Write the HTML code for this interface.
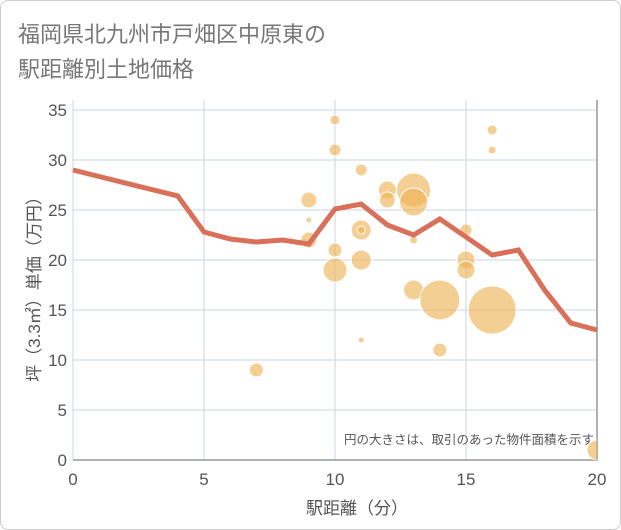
<!DOCTYPE html>
<html><head><meta charset="utf-8"><style>
body{margin:0;background:#fff;font-family:"Liberation Sans","Noto Sans CJK JP",sans-serif}
#wrap{position:relative;width:619px;height:528px;border:1px solid #ccc;border-radius:8px;background:#fff}
</style></head><body>
<div id="wrap">
<svg id="c" width="621" height="530" style="position:absolute;left:-1px;top:-1px">
<defs><clipPath id="pc"><rect x="73" y="90" width="524" height="370"/></clipPath></defs>
<text x="18" y="42" font-size="22" fill="#777">福岡県北九州市戸畑区中原東の</text>
<text x="18" y="77" font-size="22" fill="#777">駅距離別土地価格</text>
<text x="357" y="514" font-size="17" fill="#555" text-anchor="middle">駅距離（分）</text>
<text transform="translate(40,285) rotate(-90)" font-size="17" fill="#555" text-anchor="middle">坪（3.3㎡）単価（万円）</text>
<g id="grid"></g><g id="bub" clip-path="url(#pc)"></g><g id="ln"></g>
<text x="594" y="444" font-size="12.5" fill="#555" text-anchor="end">円の大きさは、取引のあった物件面積を示す</text>
</svg>
</div>
<script>
const xTicks=[0,5,10,15,20];
const yTicks=[0,5,10,15,20,25,30,35];
const lineX=[0,4,5,6,7,8,9,10,11,12,13,14,15,16,17,18,19,20];
const lineY=[29,26.4,22.8,22.1,21.8,22,21.6,25.1,25.6,23.5,22.5,24.1,22.3,20.5,21,17,13.7,13];
const bubX=[7,9,9,9,10,10,10,10,11,11,11,11,11,12,12,13,13,13,13,14,14,15,15,15,16,16,16,20];
const bubY=[9,26,24,22,34,31,21,19,29,23,23,20,12,27,26,27,25.8,22,17,16,11,23,20,19,33,31,15,1];
const bubR=[7,8,3,8,5,6,7,12,6,10,4,10,3,9,8,17,14,4,10,20,7,6,9,9,5,4,24,10];
const X0=73,X1=597,Y0=460,Y1=110;
const sx=v=>X0+(v-0)/20*(X1-X0);
const sy=v=>Y0-(v-0)/35*(Y0-Y1);
const NS="http://www.w3.org/2000/svg";
function mk(t,a,p){const e=document.createElementNS(NS,t);for(const k in a)e.setAttribute(k,a[k]);p.appendChild(e);return e;}
const g=document.getElementById('grid');
yTicks.forEach(v=>{
 const l=mk('line',{x1:X0,x2:X1,y1:sy(v),y2:sy(v),stroke:'#c8d4e4','stroke-width':1},g);
 
 
 const t=mk('text',{x:X0-6,y:sy(v)+6,'font-size':17,fill:'#555','text-anchor':'end'},g);t.textContent=v;
 
 
});
xTicks.forEach(v=>{
 const l=mk('line',{x1:sx(v),x2:sx(v),y1:Y1-10,y2:Y0,stroke:'#c8d4e4','stroke-width':1},g);
 
 
 const t=mk('text',{x:sx(v),y:Y0+25,'font-size':17,fill:'#555','text-anchor':'middle'},g);t.textContent=v;
 
 
});
const fr=mk('path',{d:`M${X0} ${Y0}H${X1}V${Y1-10}`,fill:'none',stroke:'#999','stroke-width':1.5},g);


const b=document.getElementById('bub');
bubX.forEach((x,i)=>{
 const c=mk('circle',{cx:sx(x),cy:sy(bubY[i]),r:bubR[i],fill:'rgba(238,178,80,0.62)',stroke:'#fff','stroke-width':1},b);
 
 
});
const pts=lineX.map((x,i)=>sx(x)+','+sy(lineY[i])).join(' ');
const pl=mk('polyline',{points:pts,fill:'none',stroke:'#d9705a','stroke-width':5,'stroke-linejoin':'miter'},document.getElementById('ln'));


</script>
</body></html>
